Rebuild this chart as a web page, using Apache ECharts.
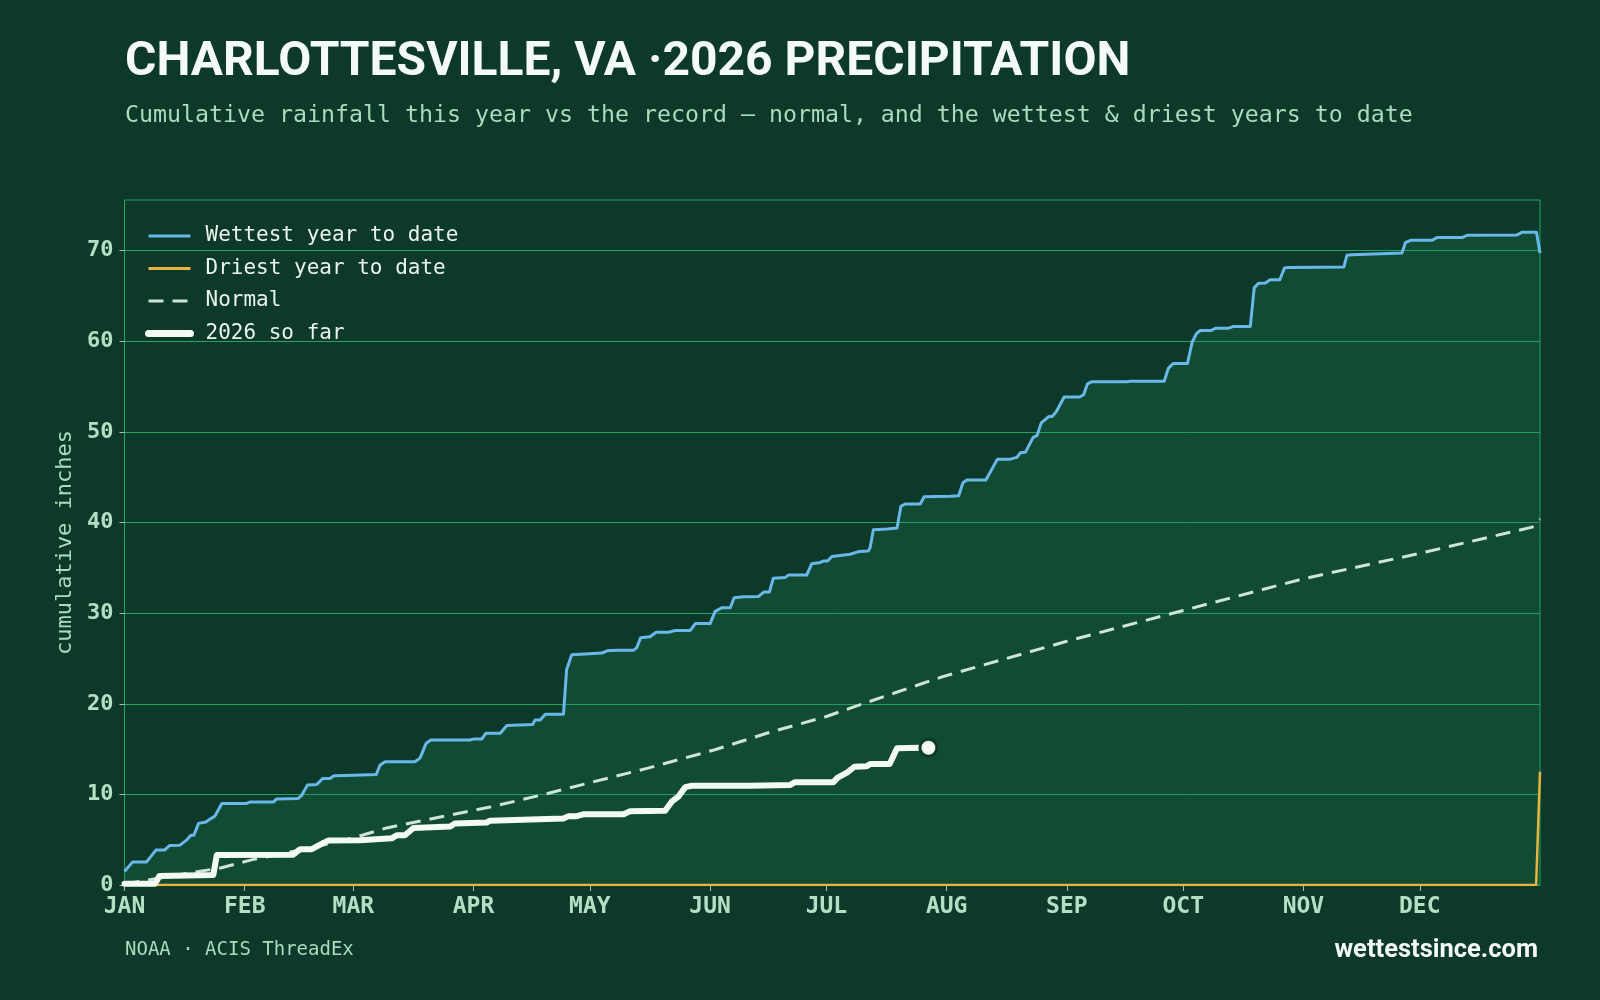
<!DOCTYPE html>
<html>
<head>
<meta charset="utf-8">
<script src="https://cdn.jsdelivr.net/npm/echarts@6/dist/echarts.min.js"></script>
<style>
  html, body { margin: 0; padding: 0; background: #0c3929; }
  #chart { width: 1600px; height: 1000px; }
</style>
</head>
<body>
<div id="chart"></div>
<script>
// ---------- DATA (day of year, cumulative inches) ----------
const monthNames = ['JAN','FEB','MAR','APR','MAY','JUN','JUL','AUG','SEP','OCT','NOV','DEC'];
const monthStartDays = [0,31,59,90,120,151,181,212,243,273,304,334];
const yTicks = [0,10,20,30,40,50,60,70];

const wettestDays = [0,2.1,5.7,8.1,10.3,11.6,14.3,16,17.1,17.9,19.1,21,22,23.3,25.1,31.5,32.3,38.4,39.2,44.8,45.7,47.2,49.6,51.1,53,54,59,64.9,65.9,67.2,74.9,76.2,77.8,79,89.1,89.9,92.1,93.2,96.9,98.6,105.2,105.9,107.2,108.5,113.2,114,115.3,115.8,123.1,124.4,126.9,131.2,132.1,133.1,135.5,137.1,140.3,142.1,145.9,147.2,151,152.3,154,156.2,157.2,159.6,163.5,164.9,166.3,167.3,170.4,171.2,175.9,177.2,179.4,180.2,181.3,182.4,187.1,189.3,191.8,192.3,193.1,196.6,199.2,200.2,201.3,205.2,206.2,212.9,215.1,216.2,217.2,222.1,225.1,228.4,230.1,231,232.3,234.3,235.3,236.4,238.3,239.2,240.3,242.3,246.3,247.3,248.3,249.5,258.5,259.4,268.1,269.2,270.4,274.1,275.3,276.4,277.4,280.2,281.3,284.7,286,290.3,291.3,292.4,294.2,295.4,297.9,299.1,300.2,314.4,315.2,316.5,322.1,329.4,330.3,331.6,337.2,338.4,344.9,346.2,359.1,360.4,364.1,365];
const wettestVals = [1.5,2.55,2.55,3.85,3.85,4.35,4.4,4.95,5.5,5.5,6.8,6.95,7.25,7.6,9.0,9.0,9.15,9.15,9.5,9.55,9.9,11.05,11.1,11.75,11.75,12.05,12.1,12.2,13.25,13.6,13.6,14.0,15.65,16.0,16.0,16.1,16.1,16.75,16.75,17.6,17.7,18.2,18.2,18.85,18.85,23.75,25.4,25.6,25.6,25.85,25.9,25.9,26.2,27.3,27.4,27.9,27.9,28.1,28.1,28.85,28.85,30.2,30.6,30.6,31.7,31.8,31.85,32.35,32.35,33.85,33.95,34.2,34.2,35.45,35.6,35.75,35.75,36.25,36.5,36.8,36.85,37.3,39.2,39.3,39.4,41.8,42.05,42.05,42.85,42.9,42.95,44.4,44.7,44.7,47.0,47.0,47.2,47.7,47.75,49.4,49.6,51.0,51.7,51.7,52.25,53.85,53.85,54.1,55.3,55.55,55.55,55.6,55.6,57.05,57.55,57.55,59.9,60.85,61.2,61.2,61.45,61.45,61.65,61.65,65.9,66.4,66.45,66.8,66.8,68.1,68.15,68.2,69.5,69.55,69.65,69.75,70.9,71.15,71.15,71.45,71.45,71.7,71.75,72.05,72.05,69.75];

const driestDays = [0,364,365];
const driestVals = [0,0,12.5];

const normalDays = [0,15,25,33,47,59,67.6,81.4,94.3,107.2,119.2,135,152,166,181,189,211,243,273,304,334,363,365];
const normalVals = [0.1,1.2,1.9,2.8,4.0,5.2,6.3,7.5,8.6,9.9,11.2,12.9,14.9,16.8,18.6,19.8,23.0,26.9,30.3,33.8,36.6,39.5,40.4];

const thisYearDays = [0,7.9,9,22.9,23.8,43.5,45.3,48.3,51.3,52.6,60.7,68.9,70.2,72.3,74.5,84,85.2,93.4,94.3,113.2,114.5,116.6,118.3,128.7,130.4,139.4,141.1,142.8,144.6,146.3,161.3,171.7,172.9,182.8,183.9,186.3,188.2,191.4,192.3,197.3,199.2,205.2,207.3];
const thisYearVals = [0.15,0.15,1.0,1.1,3.3,3.35,3.95,3.95,4.65,4.9,4.95,5.15,5.5,5.5,6.3,6.45,6.8,6.9,7.1,7.35,7.6,7.6,7.8,7.8,8.15,8.2,9.2,9.75,10.8,10.95,10.95,11.05,11.35,11.35,11.85,12.4,13.05,13.1,13.35,13.35,15.1,15.15,15.15];

const titleText = 'CHARLOTTESVILLE, VA \u00b72026 PRECIPITATION';
const subtitleText = 'Cumulative rainfall this year vs the record \u2014 normal, and the wettest & driest years to date';
const sourceText = 'NOAA \u00b7 ACIS ThreadEx';
const siteText = 'wettestsince.com';
const yAxisName = 'cumulative inches';

// ---------- helpers ----------
const zip = (xs, ys) => xs.map((x, i) => [x, ys[i]]);
const lastIdx = thisYearDays.length - 1;

const MONO = '"DejaVu Sans Mono", monospace';
const SANS = 'Roboto, "Noto Sans", sans-serif';
const GRID = '#1fa363';
const MINT = '#a9dcbc';
const C_WET = '#6ab8ea', C_DRY = '#e8b441', C_NORM = '#cfe5d5', C_NOW = '#f3faf4';
const NORM_DASH = [15, 9];

const chart = echarts.init(document.getElementById('chart'), null, { renderer: 'canvas' });

chart.setOption({
  backgroundColor: '#0c3929',
  animation: false,
  title: [
    { text: titleText, left: 120, top: 30,
      textStyle: { color: '#f4faf5', fontFamily: SANS, fontWeight: 700, fontSize: 48, lineHeight: 56 } },
    { text: subtitleText, left: 120, top: 97,
      textStyle: { color: MINT, fontFamily: MONO, fontWeight: 400, fontSize: 23.25, lineHeight: 28 } },
    { text: sourceText, left: 120, top: 934,
      textStyle: { color: MINT, fontFamily: MONO, fontWeight: 400, fontSize: 19, lineHeight: 22 } },
    { text: siteText, right: 57, top: 931,
      textStyle: { color: '#f4faf5', fontFamily: SANS, fontWeight: 700, fontSize: 25.5, lineHeight: 30 } }
  ],
  legend: {
    orient: 'vertical',
    left: 140, top: 220,
    itemWidth: 42, itemHeight: 14, itemGap: 10.5,
    itemStyle: { opacity: 0 },
    data: [
      { name: 'Wettest year to date', lineStyle: { color: C_WET, width: 3 } },
      { name: 'Driest year to date', lineStyle: { color: C_DRY, width: 3 } },
      { name: 'Normal', lineStyle: { color: C_NORM, width: 3, type: NORM_DASH } },
      { name: '2026 so far', lineStyle: { color: C_NOW, width: 7, cap: 'round' } }
    ],
    textStyle: { color: '#eaf4ec', fontFamily: MONO, fontSize: 21, lineHeight: 22, padding: [0, 0, 0, 10] }
  },
  grid: {
    left: 124.5, right: 60, top: 200, bottom: 115,
    show: true, borderColor: GRID, borderWidth: 1, backgroundColor: 'transparent'
  },
  xAxis: {
    type: 'value', min: 0, max: 365,
    axisLine: { show: true, lineStyle: { color: GRID, width: 1 } },
    axisTick: { show: true, customValues: monthStartDays, length: 6, lineStyle: { color: '#9fc4ae', width: 1 } },
    axisLabel: {
      customValues: monthStartDays,
      formatter: v => monthNames[monthStartDays.indexOf(Math.round(v))] || '',
      color: '#b3e0c4', fontFamily: MONO, fontWeight: 700, fontSize: 23, margin: 11
    },
    splitLine: { show: false }
  },
  yAxis: {
    type: 'value', min: 0, max: 75.6, interval: 10,
    name: yAxisName, nameLocation: 'middle', nameGap: 45,
    nameTextStyle: { color: MINT, fontFamily: MONO, fontSize: 22 },
    axisLine: { show: false },
    axisTick: { show: true, customValues: yTicks, length: 5, lineStyle: { color: '#9fc4ae' } },
    axisLabel: {
      formatter: v => (yTicks.indexOf(v) >= 0 ? String(v) : ''),
      color: '#b3e0c4', fontFamily: MONO, fontWeight: 700, fontSize: 22, margin: 11
    },
    splitLine: { show: true, lineStyle: { color: GRID, width: 1 } }
  },
  series: [
    {
      name: 'Wettest year to date', type: 'line', data: zip(wettestDays, wettestVals),
      showSymbol: false, symbol: 'none',
      lineStyle: { color: C_WET, width: 3, join: 'round' },
      itemStyle: { color: C_WET },
      areaStyle: { color: 'rgba(39,138,95,0.32)', origin: 'start' },
      z: 2
    },
    {
      name: 'Driest year to date', type: 'line', data: zip(driestDays, driestVals),
      showSymbol: false, symbol: 'none',
      lineStyle: { color: C_DRY, width: 2.5 },
      itemStyle: { color: C_DRY },
      z: 3
    },
    {
      name: 'Normal', type: 'line', data: zip(normalDays, normalVals),
      showSymbol: false, symbol: 'none',
      lineStyle: { color: C_NORM, width: 3, type: NORM_DASH },
      itemStyle: { color: C_NORM },
      z: 4
    },
    {
      name: '2026 so far', type: 'line', data: zip(thisYearDays, thisYearVals),
      showSymbol: false, symbol: 'none',
      lineStyle: { color: C_NOW, width: 6, cap: 'round', join: 'round' },
      itemStyle: { color: C_NOW },
      z: 5
    },
    {
      name: 'latest', type: 'scatter',
      data: [[thisYearDays[lastIdx], thisYearVals[lastIdx]]],
      symbol: 'circle', symbolSize: 17,
      itemStyle: { color: C_NOW, borderColor: '#0c3929', borderWidth: 3, opacity: 1 },
      z: 6, silent: true
    }
  ]
});
</script>
</body>
</html>
